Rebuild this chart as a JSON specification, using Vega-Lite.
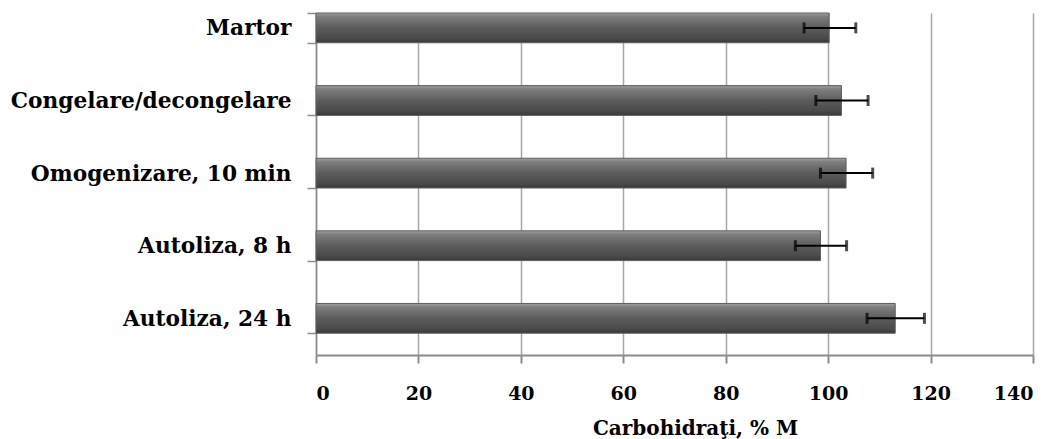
{
  "$schema": "https://vega.github.io/schema/vega-lite/v6.json",
  "width": 717,
  "height": 342,
  "autosize": {"type": "none"},
  "padding": {"left": 316, "top": 13, "right": 25, "bottom": 84},
  "background": "white",
  "config": {"view": {"stroke": null}},
  "data": {
    "values": [
      {"cat": "Martor", "val": 100.2, "lo": 95.3, "hi": 105.4},
      {"cat": "Congelare/decongelare", "val": 102.6, "lo": 97.6, "hi": 107.8},
      {"cat": "Omogenizare, 10 min", "val": 103.5, "lo": 98.5, "hi": 108.7},
      {"cat": "Autoliza, 8 h", "val": 98.5, "lo": 93.6, "hi": 103.6},
      {"cat": "Autoliza, 24 h", "val": 113.1, "lo": 107.6, "hi": 118.8}
    ]
  },
  "encoding": {
    "y": {
      "field": "cat",
      "type": "nominal",
      "sort": null,
      "scale": {"paddingInner": 0.59, "paddingOuter": 0.15, "align": 0},
      "axis": {
        "title": null,
        "labelFont": "DejaVu Serif",
        "labelFontWeight": "bold",
        "labelFontSize": 21.7,
        "labelColor": "black",
        "labelPadding": 16,
        "labelLimit": 0,
        "tickBand": "extent",
        "tickSize": 9,
        "tickColor": "#8c8c8c",
        "tickWidth": 1.5,
        "domainColor": "#8c8c8c",
        "domainWidth": 1.5,
        "grid": false
      }
    }
  },
  "layer": [
    {
      "mark": {
        "type": "bar",
        "stroke": "#5e5e5e",
        "strokeWidth": 1,
        "color": {
          "gradient": "linear",
          "x1": 0, "y1": 0, "x2": 0, "y2": 1,
          "stops": [
            {"offset": 0, "color": "#a0a0a0"},
            {"offset": 0.12, "color": "#7e7e7e"},
            {"offset": 0.5, "color": "#5c5c5c"},
            {"offset": 0.85, "color": "#4a4a4a"},
            {"offset": 1, "color": "#383838"}
          ]
        }
      },
      "encoding": {
        "x": {
          "field": "val",
          "type": "quantitative",
          "scale": {"domain": [0, 140], "nice": false},
          "axis": {
            "values": [0, 20, 40, 60, 80, 100, 120, 140],
            "grid": true,
            "gridColor": "#a8a8a8",
            "gridWidth": 1.5,
            "domainColor": "#8c8c8c",
            "domainWidth": 2,
            "tickColor": "#8c8c8c",
            "tickSize": 8,
            "tickWidth": 2,
            "labelFont": "DejaVu Serif",
            "labelFontWeight": "bold",
            "labelFontSize": 19,
            "labelColor": "black",
            "labelPadding": 21,
            "title": "Carbohidraţi, % M",
            "titleFont": "DejaVu Serif",
            "titleFontWeight": "bold",
            "titleFontSize": 20,
            "titleColor": "black",
            "titlePadding": 15,
            "titleX": 379
          }
        }
      }
    },
    {
      "mark": {"type": "rule", "color": "black", "strokeWidth": 2},
      "encoding": {
        "x": {"field": "lo", "type": "quantitative"},
        "x2": {"field": "hi"}
      }
    },
    {
      "mark": {"type": "tick", "color": "black", "thickness": 3, "size": 11},
      "encoding": {"x": {"field": "lo", "type": "quantitative"}}
    },
    {
      "mark": {"type": "tick", "color": "black", "thickness": 3, "size": 11},
      "encoding": {"x": {"field": "hi", "type": "quantitative"}}
    }
  ]
}
